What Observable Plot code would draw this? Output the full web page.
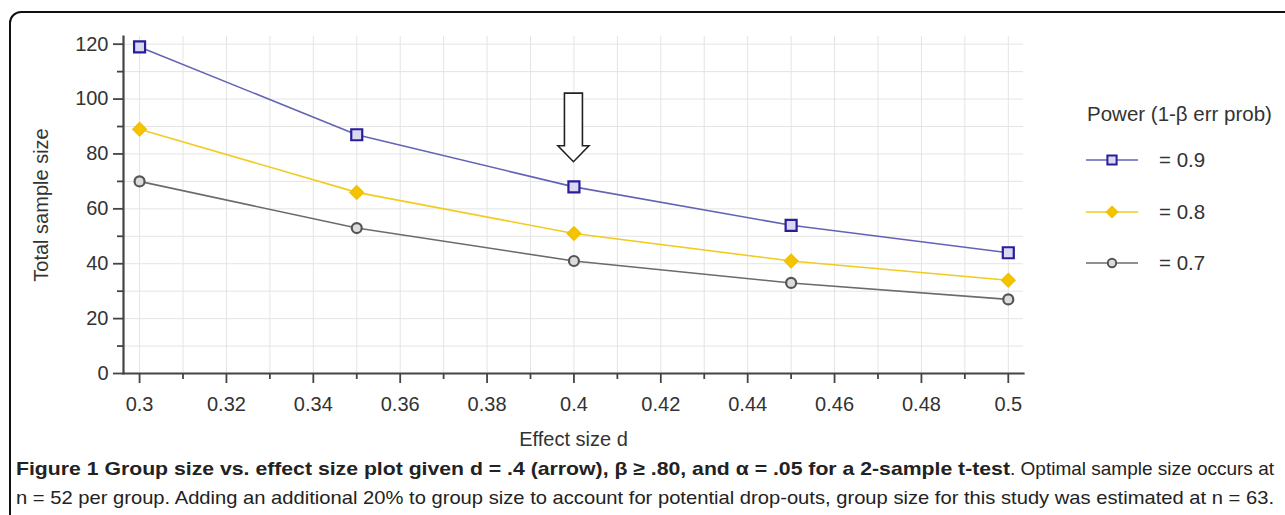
<!DOCTYPE html>
<html>
<head>
<meta charset="utf-8">
<script src="https://cdn.jsdelivr.net/npm/d3@7"></script>
<script src="https://cdn.jsdelivr.net/npm/@observablehq/plot@0.6"></script>
<style>
  html, body { margin: 0; padding: 0; background: #fff; overflow: hidden; width: 1285px; height: 515px; }
  #frame { position: absolute; left: 9px; top: 11px; width: 1400px; height: 700px; border: 2px solid #111; border-radius: 12px; box-sizing: border-box; }
  #chart { position: absolute; left: 0; top: 0; }
  #legend { position: absolute; left: 1085px; top: 100px; font-family: "Liberation Sans", Arial, sans-serif; font-size: 20.5px; color: #333; }
  #legend .title { position: absolute; left: 2px; top: 2px; white-space: nowrap; }
  #legend .item { position: absolute; left: 0; height: 22px; display: flex; align-items: center; white-space: nowrap; }
  #legend .item span { margin-left: 20px; }
  .cap { position: absolute; white-space: nowrap; font-family: "Liberation Sans", Arial, sans-serif; font-size: 19px; color: #222; transform-origin: 0 0; }
</style>
</head>
<body>
<div id="frame"></div>
<div id="chart"></div>
<div id="legend"></div>
<div class="cap" id="cap1a" style="top:458px; left:16px; font-weight:bold"></div>
<div class="cap" id="cap1b" style="top:458px; left:1010px"></div>
<div class="cap" id="cap2" style="top:487px; left:16px"></div>
<script>
// ---- data ----
const effectSize = [0.3, 0.35, 0.4, 0.45, 0.5];
const power90 = [119, 87, 68, 54, 44];
const power80 = [89, 66, 51, 41, 34];
const power70 = [70, 53, 41, 33, 27];
const powerLevels = ["0.9", "0.8", "0.7"];
const legendTitle = "Power (1-β err prob)";
const legendLabels = ["= 0.9", "= 0.8", "= 0.7"];
const xTicks = [0.3, 0.32, 0.34, 0.36, 0.38, 0.4, 0.42, 0.44, 0.46, 0.48, 0.5];
const xMinorTicks = [0.31, 0.33, 0.35, 0.37, 0.39, 0.41, 0.43, 0.45, 0.47, 0.49];
const yTicks = [0, 20, 40, 60, 80, 100, 120];
const yMinorTicks = [10, 30, 50, 70, 90, 110];
const arrowMark = [{d: 0.4, top: 102, tip: 77}];
const xLabel = "Effect size d";
const yLabel = "Total sample size";
const captionBold = "Figure 1 Group size vs. effect size plot given d = .4 (arrow), β ≥ .80, and α = .05 for a 2-sample t-test";
const captionRest1 = ". Optimal sample size occurs at";
const captionLine2 = "n = 52 per group. Adding an additional 20% to group size to account for potential drop-outs, group size for this study was estimated at n = 63.";

// ---- styles ----
const styles = {
  "0.9": {line: "#6363b5", stroke: "#2a1d9a", fill: "#d9d9f4", symbol: "square", r: 6.2},
  "0.8": {line: "#f1cb1e", stroke: "#f2c200", fill: "#f5c400", symbol: "diamond2", r: 5.6},
  "0.7": {line: "#6b6b6b", stroke: "#555555", fill: "#dcdcdc", symbol: "circle", r: 5}
};

const seriesValues = {"0.9": power90, "0.8": power80, "0.7": power70};
const table = powerLevels.flatMap(p => effectSize.map((d, i) => ({power: p, d, n: seriesValues[p][i]})));

const fmt = v => String(+v.toFixed(2));

const marks = [
  Plot.gridX([...xTicks, ...xMinorTicks], {stroke: "#e4e4e4", strokeOpacity: 1}),
  Plot.gridY([...yTicks, ...yMinorTicks], {stroke: "#e4e4e4", strokeOpacity: 1}),
  Plot.axisY(yTicks, {tickSize: 10, tickPadding: 5, tickFormat: fmt, stroke: "#444", strokeWidth: 1.8, fill: "#333",
    label: yLabel, labelAnchor: "center", labelOffset: 90, labelArrow: "none"}),
  Plot.axisY(yMinorTicks, {tickSize: 6, tickFormat: () => "", stroke: "#444", strokeWidth: 1.8, label: null}),
  Plot.axisX(xTicks, {tickSize: 10, tickPadding: 13, tickFormat: fmt, stroke: "#444", strokeWidth: 1.8, fill: "#333",
    label: xLabel, labelAnchor: "center", labelOffset: 72, labelArrow: "none"}),
  Plot.axisX(xMinorTicks, {tickSize: 6, tickFormat: () => "", stroke: "#444", strokeWidth: 1.8, label: null}),
];

for (const p of powerLevels) {
  const s = styles[p];
  const data = table.filter(r => r.power === p);
  marks.push(Plot.line(data, {x: "d", y: "n", stroke: s.line, strokeWidth: 1.6, curve: "linear"}));
}
for (const p of powerLevels) {
  const s = styles[p];
  const data = table.filter(r => r.power === p);
  marks.push(Plot.dot(data, {x: "d", y: "n", symbol: () => s.symbol, r: s.r, stroke: s.stroke, fill: s.fill, strokeWidth: 2.2}));
}

// axis lines
marks.push(Plot.frame({anchor: "left", stroke: "#444", strokeWidth: 2.2}));
marks.push(Plot.frame({anchor: "bottom", stroke: "#444", strokeWidth: 2.2}));

// hollow arrow pointing at d = 0.4
marks.push(Plot.dot(arrowMark, {x: "d", y: "top", render: (index, scales) => {
  const g = d3.create("svg:g");
  for (const i of index) {
    const a = arrowMark[i];
    const x = scales.x(a.d), y0 = scales.y(a.top), y1 = scales.y(a.tip);
    const hw = 9, hh = 15.5, headH = 16;
    const pts = [[x - hw, y0], [x + hw, y0], [x + hw, y1 - headH], [x + hh, y1 - headH], [x, y1], [x - hh, y1 - headH], [x - hw, y1 - headH]];
    g.append("path").attr("d", "M" + pts.map(p => p.join(",")).join("L") + "Z")
      .attr("fill", "#fff").attr("stroke", "#222").attr("stroke-width", 1.6).attr("stroke-linejoin", "miter");
  }
  return g.node();
}}));

const chart = Plot.plot({
  width: 1285,
  height: 455,
  marginLeft: 123,
  marginRight: 262,
  marginTop: 36,
  marginBottom: 82,
  x: {domain: [0.2963, 0.5035]},
  y: {domain: [0, 122.8]},
  style: {fontFamily: "'Liberation Sans', Arial, sans-serif", fontSize: "20px", color: "#333", background: "transparent", overflow: "visible"},
  marks
});
document.getElementById("chart").appendChild(chart);

// ---- legend ----
const legend = d3.select("#legend");
legend.append("div").attr("class", "title").text(legendTitle);
powerLevels.forEach((p, i) => {
  const s = styles[p];
  const item = legend.append("div").attr("class", "item").style("top", (49 + i * 51.5) + "px");
  const svg = item.append("svg").attr("width", 54).attr("height", 22);
  svg.append("line").attr("x1", 1).attr("x2", 53).attr("y1", 11).attr("y2", 11).attr("stroke", s.line).attr("stroke-width", 1.6);
  const sym = {square: d3.symbolSquare, diamond2: d3.symbolDiamond2, circle: d3.symbolCircle}[s.symbol];
  const size = Math.PI * s.r * s.r * 0.7;
  svg.append("path").attr("d", d3.symbol(sym, size)()).attr("transform", "translate(27,11)")
    .attr("fill", s.fill).attr("stroke", s.stroke).attr("stroke-width", 2);
  item.append("span").text(legendLabels[i]);
});

// ---- caption (each piece condensed to the reference widths) ----
d3.select("#cap1a").text(captionBold);
d3.select("#cap1b").text(captionRest1);
d3.select("#cap2").text(captionLine2);
const fitWidths = {cap1a: 994, cap1b: 264, cap2: 1258};
for (const id of Object.keys(fitWidths)) {
  const el = document.getElementById(id);
  const w = el.getBoundingClientRect().width;
  el.style.transform = `scaleX(${fitWidths[id] / w})`;
}
</script>
</body>
</html>
